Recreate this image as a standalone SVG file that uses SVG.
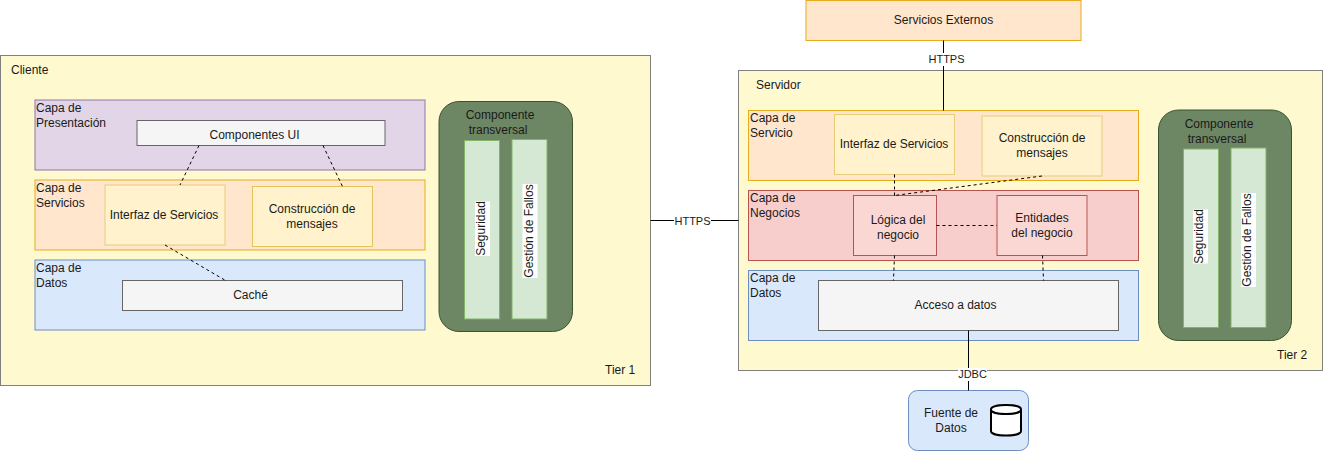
<svg xmlns="http://www.w3.org/2000/svg" width="1323" height="451" viewBox="0 0 1323 451">
<style>
text{font-family:"Liberation Sans",Arial,sans-serif;font-size:12px;fill:#1a1a1a}
.m{text-anchor:middle}
.tier{fill:#fff9d0;stroke:#808080}
.purple{fill:#e1d5e7;stroke:#9673a6}
.orange{fill:#ffe6cc;stroke:#e6ac1c}
.red{fill:#f8cecc;stroke:#b85450}
.blue{fill:#dae8fc;stroke:#6c8ebf}
.grey{fill:#f5f5f5;stroke:#666}
.yel{fill:#fff2cc;stroke:#e6c25c}
.yel2{fill:#fff2cc;stroke:#e8cc7a}
.pink{fill:#fad7d3;stroke:#b85450}
.dark{fill:#6d8764;stroke:#3a5431}
.col{fill:#d5e8d4;stroke:#82b366}
.lbg{fill:#fff}
.dash{fill:none;stroke:#000;stroke-dasharray:3 3}
.solid{fill:none;stroke:#000}
</style>
<g id="cliente">
<rect class="tier" x="0.5" y="55.5" width="650" height="330"/>
<text x="11" y="74">Cliente</text>
<text x="605" y="374">Tier 1</text>
</g>
<g id="servidor">
<rect class="tier" x="738.5" y="70.5" width="584" height="300"/>
<text x="756" y="89">Servidor</text>
<text x="1277" y="359">Tier 2</text>
</g>
<g id="c-presentacion">
<rect class="purple" x="35" y="100" width="390" height="70"/>
<text x="36" y="112">Capa de</text><text x="36" y="127">Presentación</text>
</g>
<g id="c-servicios">
<rect class="orange" x="35" y="180" width="390" height="70"/>
<text x="36" y="192">Capa de</text><text x="36" y="207">Servicios</text>
</g>
<g id="c-datos">
<rect class="blue" x="35" y="260" width="390" height="70"/>
<text x="36" y="272">Capa de</text><text x="36" y="287">Datos</text>
</g>
<g id="c-ui">
<rect class="grey" x="137" y="120.5" width="248" height="25"/>
<text class="m" x="254.500" y="139">Componentes UI</text>
</g>
<g id="c-interfaz">
<rect class="yel2" x="105" y="185" width="120" height="60"/>
<text class="m" x="164" y="219">Interfaz de Servicios</text>
</g>
<g id="c-construccion">
<rect class="yel" x="252.500" y="186.500" width="120" height="60"/>
<text class="m" x="312" y="213">Construcción de</text><text class="m" x="312" y="228">mensajes</text>
</g>
<g id="c-cache">
<rect class="grey" x="122.500" y="280.500" width="280" height="30"/>
<text class="m" x="250.500" y="299">Caché</text>
</g>
<g id="c-transversal">
<rect class="dark" x="439" y="101.500" width="133.500" height="230" rx="20" ry="20"/>
<text class="m" x="500" y="119">Componente</text><text class="m" x="498" y="134">transversal</text>
<rect class="col" x="464.500" y="140.500" width="35" height="178.500"/>
<rect class="col" x="512" y="139.500" width="35" height="179.500"/>
<rect class="lbg" x="475" y="201.500" width="15" height="54.500"/>
<text class="m" transform="translate(485 228.500) rotate(-90)">Seguridad</text>
<rect class="lbg" x="522.500" y="184" width="15" height="94"/>
<text class="m" transform="translate(533 231) rotate(-90)">Gestión de Fallos</text>
</g>
<g id="s-externos">
<rect class="orange" x="806" y="0.500" width="275" height="40"/>
<text class="m" x="943.500" y="24">Servicios Externos</text>
</g>
<g id="s-servicio">
<rect class="orange" x="748.500" y="110.500" width="390" height="70"/>
<text x="750" y="122">Capa de</text><text x="750" y="137">Servicio</text>
</g>
<g id="s-negocios">
<rect class="red" x="748.500" y="190.500" width="390" height="70"/>
<text x="750" y="202">Capa de</text><text x="750" y="217">Negocios</text>
</g>
<g id="s-datos">
<rect class="blue" x="748.500" y="270.500" width="390" height="70"/>
<text x="750" y="282">Capa de</text><text x="750" y="297">Datos</text>
</g>
<g id="s-interfaz">
<rect class="yel2" x="834.500" y="114.500" width="120" height="60"/>
<text class="m" x="894" y="148">Interfaz de Servicios</text>
</g>
<g id="s-construccion">
<rect class="yel2" x="982" y="116" width="120" height="60"/>
<text class="m" x="1042" y="142">Construcción de</text><text class="m" x="1042" y="157">mensajes</text>
</g>
<g id="s-logica">
<rect class="pink" x="853.500" y="195.500" width="83" height="60"/>
<text class="m" x="898" y="224">Lógica del</text><text class="m" x="898" y="239">negocio</text>
</g>
<g id="s-entidades">
<rect class="pink" x="997" y="195.500" width="90" height="60"/>
<text class="m" x="1042" y="222">Entidades</text><text class="m" x="1042" y="237">del negocio</text>
</g>
<g id="s-acceso">
<rect class="grey" x="818.500" y="280.500" width="300" height="50"/>
<text class="m" x="955.500" y="309">Acceso a datos</text>
</g>
<g id="s-transversal">
<rect class="dark" x="1158.500" y="110" width="133" height="230.500" rx="20" ry="20"/>
<text class="m" x="1219" y="128">Componente</text><text class="m" x="1217" y="143">transversal</text>
<rect class="col" x="1183.500" y="149" width="35" height="178.500"/>
<rect class="col" x="1231" y="148" width="35" height="179.500"/>
<rect class="lbg" x="1193" y="209.500" width="15" height="54"/>
<text class="m" transform="translate(1203 236.500) rotate(-90)">Seguridad</text>
<rect class="lbg" x="1241" y="193" width="15" height="94"/>
<text class="m" transform="translate(1251 240) rotate(-90)">Gestión de Fallos</text>
</g>
<g id="s-fuente">
<rect class="blue" x="908.500" y="390.500" width="120" height="60" rx="9" ry="9"/>
<text class="m" x="951" y="417">Fuente de</text><text class="m" x="951" y="432">Datos</text>
<path d="M991 409.500c0-6 30-6 30 0v21.500c0 6-30 6-30 0z" fill="#fff" stroke="#000" stroke-width="2"/>
<path d="M991 409.500c0 6 30 6 30 0" fill="none" stroke="#000" stroke-width="2"/>
</g>
<g id="connectors">
<path class="dash" d="M199 145.500L180 185"/>
<path class="dash" d="M323 145.500L342.500 186.500"/>
<path class="dash" d="M165 245L225.500 280.500"/>
<path class="dash" d="M894.500 174.500V195.500"/>
<path class="dash" d="M1042 176L894.500 195.500"/>
<path class="dash" d="M936.500 225.500H997"/>
<path class="dash" d="M894.500 255.500L893.500 280.500"/>
<path class="dash" d="M1042.500 255.500L1043.500 280.500"/>
<path class="solid" d="M943.500 40.500V110.500"/>
<path class="solid" d="M650.500 220.500H738.500"/>
<path class="solid" d="M968.500 330.500V390.500"/>
<rect class="lbg" x="674" y="214" width="37" height="13"/>
<text class="m" x="692.500" y="224.500" style="font-size:11px">HTTPS</text>
<rect class="lbg" x="928" y="53" width="37" height="13"/>
<text class="m" x="946.500" y="63" style="font-size:11px">HTTPS</text>
<rect class="lbg" x="958" y="368" width="29" height="13"/>
<text class="m" x="972.500" y="378" style="font-size:11px">JDBC</text>
</g>
</svg>
